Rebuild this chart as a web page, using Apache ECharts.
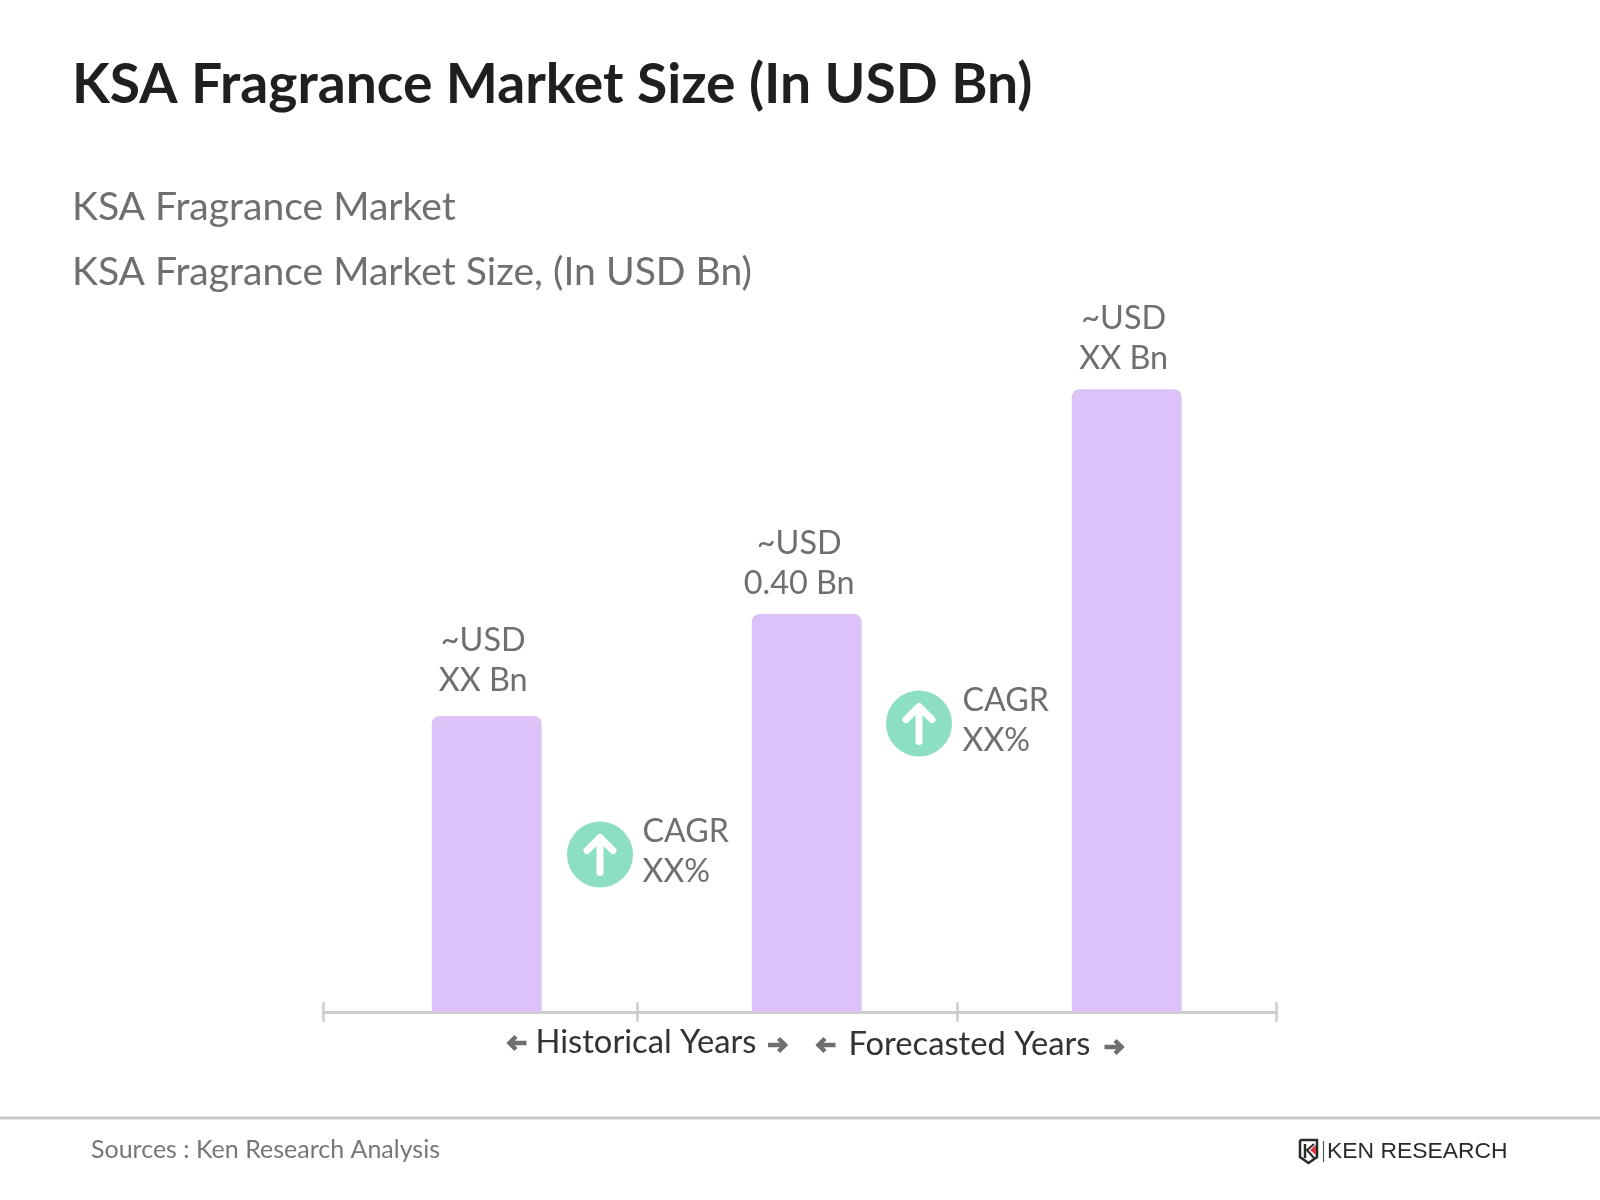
<!DOCTYPE html>
<html><head><meta charset="utf-8">
<style>html,body{margin:0;padding:0;background:#fff}#c{width:1600px;height:1200px}</style>
<script src="https://cdn.jsdelivr.net/npm/echarts@6/dist/echarts.min.js"></script>
</head><body><div id="c"></div>
<script>
const categories = ['Historical', 'Base', 'Forecast'];
const values = [0.2975, 0.40, 0.626];
const barLabels = ['~USD\nXX Bn', '~USD\n0.40 Bn', '~USD\nXX Bn'];
const cagrLabels = ['CAGR\nXX%', 'CAGR\nXX%'];
const axisLabels = ['Historical Years', 'Forecasted Years'];
const titleText = 'KSA Fragrance Market Size (In USD Bn)';
const subtitleLines = ['KSA Fragrance Market', 'KSA Fragrance Market Size, (In USD Bn)'];
const sourceText = 'Sources : Ken Research Analysis';
const logoText = 'KEN RESEARCH';
const axisTicks = [0, 0.988, 1.994, 3];

const FONT = 'Lato';
const GREY = '#6f6f6f';
const labelOffsets = [[-3.5, -3], [-7.5, 2], [-3, 1]];

function arrow(cx, cy, dir) {
  const w = 9 * dir;
  return {
    type: 'polyline', silent: true,
    shape: { points: [[cx - w, cy], [cx + w - 2 * dir, cy]] },
    style: { stroke: GREY, lineWidth: 4.5, fill: null }
  };
}
function arrowHead(cx, cy, dir) {
  const tip = cx + 8 * dir;
  return {
    type: 'polyline', silent: true,
    shape: { points: [[tip - 6.5 * dir, cy - 6.5], [tip, cy], [tip - 6.5 * dir, cy + 6.5]] },
    style: { stroke: GREY, lineWidth: 4.5, fill: null }
  };
}
function cagrIcon(cx, cy) {
  return [
    { type: 'circle', silent: true, shape: { cx, cy, r: 33 }, style: { fill: '#8cdfc3' } },
    { type: 'polyline', silent: true, shape: { points: [[cx, cy + 18], [cx, cy - 16]] },
      style: { stroke: '#fff', lineWidth: 7, lineCap: 'round', fill: null } },
    { type: 'polyline', silent: true, shape: { points: [[cx - 13, cy - 4], [cx, cy - 17], [cx + 13, cy - 4]] },
      style: { stroke: '#fff', lineWidth: 7, lineCap: 'round', lineJoin: 'round', fill: null } }
  ];
}
function txt(x, y, text, size, fill, extra) {
  return { type: 'text', silent: true, x, y,
    style: Object.assign({ text, fontFamily: FONT, fontSize: size, fill, verticalAlign: 'middle' }, extra || {}) };
}

const chart = echarts.init(document.getElementById('c'), null, { renderer: 'canvas', width: 1600, height: 1200 });
chart.setOption({
  animation: false,
  backgroundColor: '#fff',
  grid: [
    { left: 326.7, width: 960, top: 315.5, height: 696.5 },
    { left: 323.5, width: 953, top: 315.5, height: 696.5 }
  ],
  xAxis: [
    { type: 'category', gridIndex: 0, data: categories, axisLine: { show: false }, axisTick: { show: false }, axisLabel: { show: false }, splitLine: { show: false } },
    { type: 'value', gridIndex: 1, min: 0, max: 3, position: 'bottom', splitLine: { show: false }, axisLabel: { show: false },
      axisLine: { show: true, lineStyle: { color: '#cdcdcd', width: 3 } },
      axisTick: { show: true, customValues: axisTicks, length: 10, lineStyle: { color: '#cdcdcd', width: 2.5 } } },
    { type: 'value', gridIndex: 1, min: 0, max: 3, position: 'bottom', splitLine: { show: false }, axisLabel: { show: false },
      axisLine: { show: false },
      axisTick: { show: true, inside: true, customValues: axisTicks, length: 10, lineStyle: { color: '#cdcdcd', width: 2.5 } } }
  ],
  yAxis: [
    { type: 'value', gridIndex: 0, min: 0, max: 0.7, show: false },
    { type: 'value', gridIndex: 1, min: 0, max: 0.7, show: false }
  ],
  series: [{
    type: 'bar', xAxisIndex: 0, yAxisIndex: 0, barWidth: 110, z: 1,
    data: values.map((v, i) => ({
      value: v,
      label: { show: true, position: 'top', distance: 12, offset: labelOffsets[i], formatter: barLabels[i],
        fontFamily: FONT, fontSize: 32.4, lineHeight: 40, color: GREY, align: 'center' }
    })),
    itemStyle: { color: '#dcc2f7', borderRadius: [8, 8, 0, 0] }
  }],
  title: [
    { text: titleText, left: 72, top: 58, padding: 0, textStyle: { fontFamily: FONT, fontWeight: 'bold', fontSize: 55.2, color: '#1f1f1f' } },
    { text: subtitleLines[0], left: 72, top: 188, padding: 0, textStyle: { fontFamily: FONT, fontWeight: 'normal', fontSize: 39.1, color: GREY } },
    { text: subtitleLines[1], left: 72, top: 253, padding: 0, textStyle: { fontFamily: FONT, fontWeight: 'normal', fontSize: 39.1, color: GREY } },
    { text: sourceText, left: 91, top: 1137, padding: 0, textStyle: { fontFamily: FONT, fontWeight: 'normal', fontSize: 25, color: '#777' } }
  ],
  graphic: { elements: [
    ...cagrIcon(600, 854.5), ...cagrIcon(919, 723.5),
    txt(642.5, 852, cagrLabels[0], 32.2, GREY, { lineHeight: 40 }),
    txt(962.5, 720.5, cagrLabels[1], 32.2, GREY, { lineHeight: 40 }),
    txt(535.5, 1042, axisLabels[0], 32.7, '#333'),
    txt(848.5, 1044, axisLabels[1], 32.7, '#333'),
    arrow(517.5, 1043, -1), arrowHead(517.5, 1043, -1),
    arrow(777, 1045, 1), arrowHead(777, 1045, 1),
    arrow(826.5, 1045, -1), arrowHead(826.5, 1045, -1),
    arrow(1113.5, 1047, 1), arrowHead(1113.5, 1047, 1),
    { type: 'line', silent: true, shape: { x1: 0, y1: 1118, x2: 1600, y2: 1118 }, style: { stroke: '#c8c8c8', lineWidth: 3 } },
    { type: 'polyline', silent: true, shape: { points: [[1300, 1140], [1317, 1140], [1317, 1157], [1308.5, 1163], [1300, 1157], [1300, 1140]] },
      style: { stroke: '#2a2a2a', lineWidth: 2.5, fill: '#fff' } },
    { type: 'polyline', silent: true, shape: { points: [[1305, 1144], [1305, 1158]] }, style: { stroke: '#2a2a2a', lineWidth: 2.5, fill: null } },
    { type: 'polyline', silent: true, shape: { points: [[1314, 1144], [1307, 1150], [1314, 1158]] }, style: { stroke: '#2a2a2a', lineWidth: 2, fill: null } },
    { type: 'polygon', silent: true, shape: { points: [[1316, 1145], [1310, 1150], [1316, 1155]] }, style: { fill: '#d8333f' } },
    { type: 'line', silent: true, shape: { x1: 1323.5, y1: 1141, x2: 1323.5, y2: 1162 }, style: { stroke: '#555', lineWidth: 1.2 } },
    { type: 'text', silent: true, x: 1327, y: 1152, scaleX: 1.04, scaleY: 1,
      style: { text: logoText, fontFamily: 'Liberation Sans', fontSize: 22, fill: '#2a2a2a', verticalAlign: 'middle' } }
  ] }
});
</script></body></html>
